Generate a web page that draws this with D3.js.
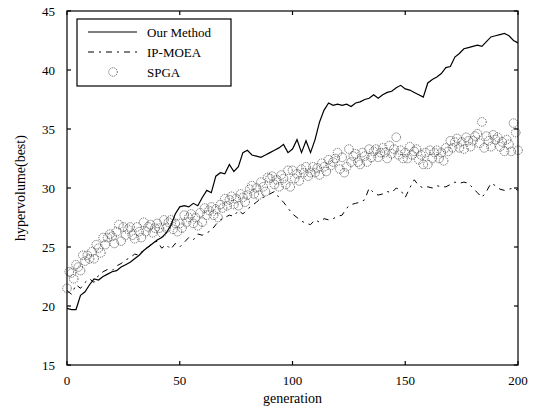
<!DOCTYPE html>
<html>
<head>
<meta charset="utf-8">
<script src="https://cdn.jsdelivr.net/npm/d3@7"></script>
<style>
  body { margin: 0; background: #fff; }
  svg text { font-family: "Liberation Serif", "DejaVu Serif", serif; fill: #000; }
</style>
</head>
<body>
<script>
// generations sampled every 2 for the two line series
const lineGens = d3.range(0, 201, 2);

const ourMethod = [
  19.8, 19.7, 19.7, 20.9, 21.2, 21.8, 22.3, 22.2, 22.5, 22.7,
  22.9, 23.0, 23.3, 23.5, 23.7, 24.0, 24.3, 24.7, 25.0, 25.3,
  25.6, 25.8, 26.2, 26.8, 27.8, 28.4, 28.5, 28.4, 28.7, 28.5,
  29.2, 29.8, 29.6, 31.0, 31.3, 31.2, 32.0, 31.4, 31.8, 33.0,
  33.2, 32.8, 32.7, 32.6, 32.8, 33.0, 33.2, 33.4, 33.7, 33.0,
  33.3, 34.1, 33.0, 34.0, 33.0, 34.1, 35.6, 36.6, 37.2, 37.0,
  37.1, 37.0, 37.1, 36.9, 37.2, 37.3, 37.5, 37.6, 37.9, 37.6,
  37.9, 38.1, 38.2, 38.5, 38.7, 38.4, 38.3, 38.1, 37.9, 37.7,
  38.9, 39.2, 39.4, 39.7, 40.2, 40.3, 41.1, 41.4, 41.8, 41.9,
  42.0, 42.1, 42.0, 42.4, 42.8, 42.9, 43.0, 43.1, 42.9, 42.5,
  42.3
];

const ipMoea = [
  21.3, 21.0, 21.8, 21.5, 22.0, 22.3, 22.0, 22.6, 22.9, 23.1,
  23.0, 23.4, 23.6, 23.9, 24.1, 24.4, 24.3, 24.8, 25.0, 25.3,
  25.5, 24.9, 25.2, 24.8, 25.3, 25.0, 25.4, 25.8, 25.6, 26.1,
  26.0, 26.2, 26.4, 26.9, 27.3, 27.5, 27.7, 27.6, 28.1, 27.8,
  28.2, 28.5, 28.8, 29.1, 29.3, 29.5, 29.7, 29.2, 28.8, 28.3,
  27.8, 27.5, 27.2, 27.0, 26.9, 27.3, 27.1, 27.4, 27.3, 27.4,
  27.6, 27.7, 28.3, 28.6, 28.7, 28.8, 29.0, 30.0, 29.6, 29.4,
  29.5, 29.7, 29.6, 30.0, 29.8, 29.2, 30.0, 30.7, 30.2, 30.0,
  30.1, 30.0, 30.2, 30.1, 30.1, 30.3, 30.5, 30.4, 30.5, 30.4,
  30.0, 29.6, 29.2, 29.7, 30.4, 30.2, 29.9, 29.8, 29.9, 30.0,
  29.8
];

// SPGA: one circle per generation 0..200
const spgaGens = d3.range(0, 201);
const spga = [
  21.5, 22.9, 22.8, 22.3, 23.5, 23.3, 23.0, 24.3, 23.8, 24.3,
  24.0, 24.6, 24.0, 25.2, 24.9, 24.5, 25.8, 25.2, 25.8, 26.1,
  25.9, 25.3, 26.3, 26.9, 25.5, 26.7, 26.0, 26.5, 26.7, 26.0,
  25.7, 26.7, 26.3, 25.8, 27.1, 26.3, 26.7, 26.9, 26.2, 26.6,
  27.0, 26.6, 26.2, 27.3, 26.6, 27.1, 27.3, 26.5, 27.0, 26.3,
  27.0, 26.6, 27.7, 27.1, 27.5, 27.8, 27.0, 27.5, 26.8, 27.9,
  27.1, 28.3, 27.7, 28.1, 28.4, 27.7, 28.2, 27.5, 28.6, 28.3,
  29.1, 28.5, 29.0, 29.3, 28.6, 29.1, 28.5, 29.5, 29.2, 28.8,
  29.4, 29.9, 30.2, 29.5, 30.0, 29.4, 30.5, 30.1, 29.7, 30.9,
  30.8, 31.0, 30.3, 30.7, 30.1, 31.1, 30.8, 30.3, 31.5, 30.1,
  31.5, 30.8, 31.2, 30.6, 31.6, 31.3, 31.8, 31.0, 31.3, 31.8,
  31.3, 31.7, 31.1, 32.1, 31.8, 31.4, 32.4, 31.9, 32.2, 32.5,
  33.0, 31.6, 32.6, 31.3, 31.8, 33.3, 32.2, 32.7, 32.9, 32.2,
  32.0, 33.0, 32.7, 32.2, 33.3, 32.6, 33.1, 33.3, 32.6, 33.0,
  33.4, 33.0, 32.5, 33.6, 32.9, 33.3, 34.3, 32.8, 33.2, 32.5,
  33.0, 32.5, 33.5, 32.8, 33.1, 33.3, 32.4, 32.8, 32.0, 33.0,
  32.0, 33.2, 32.5, 33.0, 33.2, 32.5, 33.0, 32.3, 33.4, 33.1,
  34.0, 33.4, 33.9, 34.2, 33.4, 33.9, 33.3, 34.3, 34.0, 33.5,
  34.0, 34.4, 34.6, 33.8, 35.6, 33.4, 34.4, 34.0, 33.5, 34.5,
  34.1, 34.3, 33.5, 33.9, 33.1, 34.1, 33.7, 33.1, 35.5, 34.7,
  33.2
];

const xTicks = [0, 50, 100, 150, 200];
const yTicks = [15, 20, 25, 30, 35, 40, 45];
const legendNames = ["Our Method", "IP-MOEA", "SPGA"];

const W = 536, H = 408;
const margin = { left: 67, right: 518, top: 11, bottom: 365 };

const svg = d3.select("body").append("svg")
  .attr("width", W).attr("height", H);

const x = d3.scaleLinear().domain([0, 200]).range([margin.left, margin.right]);
const y = d3.scaleLinear().domain([15, 45]).range([margin.bottom, margin.top]);

// SPGA circles
svg.append("g").selectAll("circle")
  .data(spgaGens)
  .enter().append("circle")
  .attr("cx", d => x(d))
  .attr("cy", (d, i) => y(spga[i]))
  .attr("r", 4.3)
  .style("fill", "none")
  .style("stroke", "#444")
  .style("stroke-width", 0.8)
  .style("stroke-dasharray", "1.2,0.9");

const line = d3.line()
  .x(d => x(d[0]))
  .y(d => y(d[1]));

svg.append("path")
  .datum(lineGens.map((g, i) => [g, ipMoea[i]]))
  .attr("d", line)
  .style("fill", "none")
  .style("stroke", "#000")
  .style("stroke-width", 1)
  .style("stroke-dasharray", "6,5,2,5");

svg.append("path")
  .datum(lineGens.map((g, i) => [g, ourMethod[i]]))
  .attr("d", line)
  .style("fill", "none")
  .style("stroke", "#000")
  .style("stroke-width", 1.2);

// frame
svg.append("rect")
  .attr("x", margin.left).attr("y", margin.top)
  .attr("width", margin.right - margin.left).attr("height", margin.bottom - margin.top)
  .style("fill", "none").style("stroke", "#000").style("stroke-width", 1.2);

// inward ticks on all four sides
const tickLen = 4;
const ax = svg.append("g").style("stroke", "#000").style("stroke-width", 1.2);
xTicks.forEach(t => {
  ax.append("line").attr("x1", x(t)).attr("x2", x(t)).attr("y1", margin.bottom).attr("y2", margin.bottom - tickLen);
  ax.append("line").attr("x1", x(t)).attr("x2", x(t)).attr("y1", margin.top).attr("y2", margin.top + tickLen);
});
yTicks.forEach(t => {
  ax.append("line").attr("x1", margin.left).attr("x2", margin.left + tickLen).attr("y1", y(t)).attr("y2", y(t));
  ax.append("line").attr("x1", margin.right).attr("x2", margin.right - tickLen).attr("y1", y(t)).attr("y2", y(t));
});

svg.append("g").selectAll("text")
  .data(xTicks).enter().append("text")
  .attr("x", d => x(d)).attr("y", 385)
  .attr("text-anchor", "middle")
  .style("font-size", "13px")
  .text(d => d);

svg.append("g").selectAll("text")
  .data(yTicks).enter().append("text")
  .attr("x", 55).attr("y", d => y(d) + 4.5)
  .attr("text-anchor", "end")
  .style("font-size", "13px")
  .text(d => d);

svg.append("text")
  .attr("x", (margin.left + margin.right) / 2).attr("y", 403)
  .attr("text-anchor", "middle")
  .style("font-size", "14px")
  .text("generation");

svg.append("text")
  .attr("transform", "translate(25," + ((margin.top + margin.bottom) / 2) + ") rotate(-90)")
  .attr("text-anchor", "middle")
  .style("font-size", "14px")
  .text("hypervolume(best)");

// legend
const lg = svg.append("g");
lg.append("rect")
  .attr("x", 77).attr("y", 19).attr("width", 154).attr("height", 67)
  .style("fill", "#fff").style("stroke", "#000").style("stroke-width", 1.2);
const ly = [32, 52, 72];
lg.append("line").attr("x1", 88).attr("x2", 137).attr("y1", ly[0]).attr("y2", ly[0])
  .style("stroke", "#000").style("stroke-width", 1.2);
lg.append("line").attr("x1", 88).attr("x2", 137).attr("y1", ly[1]).attr("y2", ly[1])
  .style("stroke", "#000").style("stroke-width", 1).style("stroke-dasharray", "6,5,2,5");
lg.append("circle").attr("cx", 113).attr("cy", ly[2]).attr("r", 4.3)
  .style("fill", "none").style("stroke", "#444").style("stroke-width", 0.8)
  .style("stroke-dasharray", "1.2,0.9");
lg.selectAll("text.lab")
  .data(legendNames).enter().append("text")
  .attr("x", 147).attr("y", (d, i) => ly[i] + 4.5)
  .style("font-size", "13px")
  .text(d => d);
</script>
</body>
</html>
